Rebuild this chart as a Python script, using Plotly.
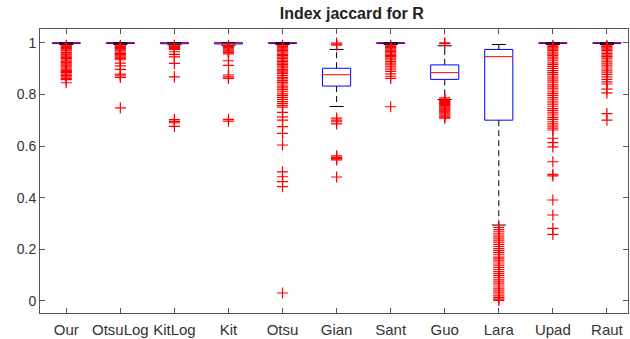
import plotly.graph_objects as go

# ---------------- data ----------------
categories = ["Our", "OtsuLog", "KitLog", "Kit", "Otsu", "Gian", "Sant", "Guo", "Lara", "Upad", "Raut"]

q1_vals = [0.997, 0.997, 0.996, 0.995, 0.997, 0.832, 0.997, 0.858, 0.700, 0.997, 0.997]
median_vals = [1.000, 1.000, 1.000, 0.999, 1.000, 0.876, 1.000, 0.884, 0.946, 1.000, 1.000]
q3_vals = [1.000, 1.000, 1.000, 1.000, 1.000, 0.901, 1.000, 0.914, 0.974, 1.000, 1.000]
lower_whisker = [0.993, 0.993, 0.992, 0.990, 0.993, 0.753, 0.993, 0.780, 0.294, 0.993, 0.993]
upper_whisker = [1.000, 1.000, 1.000, 1.000, 1.000, 0.974, 1.000, 0.988, 0.993, 1.000, 1.000]

out_our = [0.990, 0.986, 0.981, 0.977, 0.972, 0.968, 0.962, 0.957, 0.953, 0.948, 0.943,
           0.938, 0.933, 0.929, 0.924, 0.918, 0.913, 0.909, 0.903, 0.898, 0.893, 0.888,
           0.884, 0.878, 0.873, 0.868, 0.862, 0.857, 0.845]
out_otsulog = [0.990, 0.986, 0.982, 0.977, 0.972, 0.968, 0.963, 0.958, 0.954, 0.949, 0.944,
               0.939, 0.934, 0.921, 0.910, 0.897, 0.878, 0.872, 0.866, 0.748]
out_kitlog = [0.990, 0.986, 0.982, 0.977, 0.974, 0.965, 0.955, 0.945, 0.920, 0.868,
              0.702, 0.695, 0.690, 0.676]
out_kit = [0.989, 0.985, 0.981, 0.976, 0.971, 0.967, 0.962, 0.957, 0.930, 0.912,
           0.875, 0.868, 0.862, 0.703, 0.696]
out_otsu = [0.990, 0.985, 0.980, 0.975, 0.970, 0.965, 0.960, 0.955, 0.950, 0.944, 0.938,
            0.932, 0.927, 0.921, 0.915, 0.909, 0.903, 0.897, 0.891, 0.886, 0.880, 0.873,
            0.866, 0.860, 0.853, 0.846, 0.840, 0.832, 0.825, 0.818, 0.810, 0.802, 0.795,
            0.787, 0.780, 0.772, 0.764, 0.756, 0.750, 0.730, 0.713, 0.700, 0.675, 0.649,
            0.604, 0.500, 0.481, 0.462, 0.443, 0.031]
out_gian = [0.998, 0.994, 0.990, 0.708, 0.700, 0.694, 0.686, 0.562, 0.556, 0.551,
            0.546, 0.480]
out_sant = [0.990, 0.986, 0.981, 0.976, 0.971, 0.966, 0.961, 0.956, 0.951, 0.946, 0.940,
            0.934, 0.928, 0.921, 0.914, 0.906, 0.898, 0.889, 0.879, 0.870, 0.862, 0.752]
out_guo = [0.999, 0.996, 0.786, 0.781, 0.776, 0.772, 0.768, 0.764, 0.760, 0.756, 0.752,
           0.748, 0.744, 0.740, 0.736, 0.732, 0.728, 0.724, 0.720, 0.716, 0.712, 0.708]
out_lara = [0.285, 0.276, 0.268, 0.260, 0.251, 0.243, 0.236, 0.228, 0.219, 0.211, 0.203,
            0.195, 0.187, 0.179, 0.170, 0.163, 0.155, 0.147, 0.139, 0.130, 0.122, 0.114,
            0.106, 0.098, 0.090, 0.082, 0.074, 0.066, 0.058, 0.050, 0.042, 0.034, 0.027,
            0.020, 0.013, 0.007, 0.002]
out_upad = [0.990, 0.985, 0.980, 0.975, 0.969, 0.963, 0.957, 0.951, 0.944, 0.937, 0.930,
            0.922, 0.915, 0.907, 0.900, 0.892, 0.884, 0.876, 0.868, 0.860, 0.852, 0.845,
            0.837, 0.829, 0.821, 0.812, 0.804, 0.796, 0.787, 0.779, 0.771, 0.762, 0.754,
            0.745, 0.737, 0.728, 0.720, 0.711, 0.703, 0.694, 0.686, 0.677, 0.669, 0.662,
            0.630, 0.613, 0.597, 0.539, 0.490, 0.484, 0.391, 0.333, 0.281, 0.258]
out_raut = [0.990, 0.985, 0.980, 0.975, 0.970, 0.964, 0.958, 0.952, 0.946, 0.940, 0.933,
            0.926, 0.918, 0.910, 0.902, 0.894, 0.886, 0.877, 0.868, 0.858, 0.848, 0.840,
            0.820, 0.806, 0.725, 0.700]

outliers = [out_our, out_otsulog, out_kitlog, out_kit, out_otsu, out_gian,
            out_sant, out_guo, out_lara, out_upad, out_raut]

y_tick_vals = [0, 0.2, 0.4, 0.6, 0.8, 1]
y_tick_text = ["0", "0.2", "0.4", "0.6", "0.8", "1"]

# ---------------- build geometry through data coordinates ----------------
positions = list(range(1, len(categories) + 1))
half_box = 0.26
half_cap = 0.13

box_x, box_y = [], []
med_x, med_y = [], []
wh_x, wh_y = [], []
cap_x, cap_y = [], []
ol_x, ol_y = [], []

for p, a, m, b, lo, hi, ol in zip(positions, q1_vals, median_vals, q3_vals,
                                  lower_whisker, upper_whisker, outliers):
    box_x += [p - half_box, p + half_box, p + half_box, p - half_box, p - half_box, None]
    box_y += [a, a, b, b, a, None]
    med_x += [p - half_box, p + half_box, None]
    med_y += [m, m, None]
    wh_x += [p, p, None, p, p, None]
    wh_y += [b, hi, None, a, lo, None]
    cap_x += [p - half_cap, p + half_cap, None, p - half_cap, p + half_cap, None]
    cap_y += [hi, hi, None, lo, lo, None]
    ol_x += [p] * len(ol)
    ol_y += ol

fig = go.Figure()
fig.add_trace(go.Scatter(x=wh_x, y=wh_y, mode="lines",
                         line=dict(color="black", width=1, dash="6px,4px"),
                         hoverinfo="skip", showlegend=False))
fig.add_trace(go.Scatter(x=box_x, y=box_y, mode="lines",
                         line=dict(color="#0000FF", width=1),
                         hoverinfo="skip", showlegend=False))
fig.add_trace(go.Scatter(x=med_x, y=med_y, mode="lines",
                         line=dict(color="#FF0000", width=1),
                         hoverinfo="skip", showlegend=False))
fig.add_trace(go.Scatter(x=cap_x, y=cap_y, mode="lines",
                         line=dict(color="black", width=1),
                         hoverinfo="skip", showlegend=False))
fig.add_trace(go.Scatter(x=ol_x, y=ol_y, mode="markers",
                         marker=dict(symbol="cross-thin", size=8,
                                     line=dict(color="#FF0000", width=1.2)),
                         showlegend=False))

font_family = "Liberation Sans, Arial, sans-serif"

fig.update_layout(
    width=630, height=339,
    margin=dict(l=40, r=2, t=29, b=26),
    paper_bgcolor="white", plot_bgcolor="white",
    showlegend=False,
    font=dict(family=font_family, size=15, color="#333333"),
    title=dict(text="<b>Index jaccard for R</b>",
               font=dict(family=font_family, size=16, color="#222222"),
               x=334 / 630, xanchor="center", xref="paper",
               y=1 - 13 / 339, yanchor="middle", yref="container"),
    xaxis=dict(range=[0.514, 11.39], tickmode="array", tickvals=positions,
               ticktext=categories, showgrid=False, zeroline=False,
               showline=True, linecolor="#555555", linewidth=1, mirror="ticks",
               ticks="inside", ticklen=5, tickcolor="#555555",
               tickfont=dict(size=15, color="#333333"), automargin=False,
               ticklabelstandoff=3),
    yaxis=dict(range=[-0.0465, 1.053], tickmode="array", tickvals=y_tick_vals,
               ticktext=y_tick_text, showgrid=False, zeroline=False,
               showline=True, linecolor="#555555", linewidth=1, mirror="ticks",
               ticks="inside", ticklen=5, tickcolor="#555555",
               tickfont=dict(size=14, color="#333333"), automargin=False),
)

fig.write_html(
    "out.html",
    config={"displayModeBar": False, "staticPlot": True},
    post_script="document.body.style.margin='0';document.body.style.overflow='hidden';",
)
